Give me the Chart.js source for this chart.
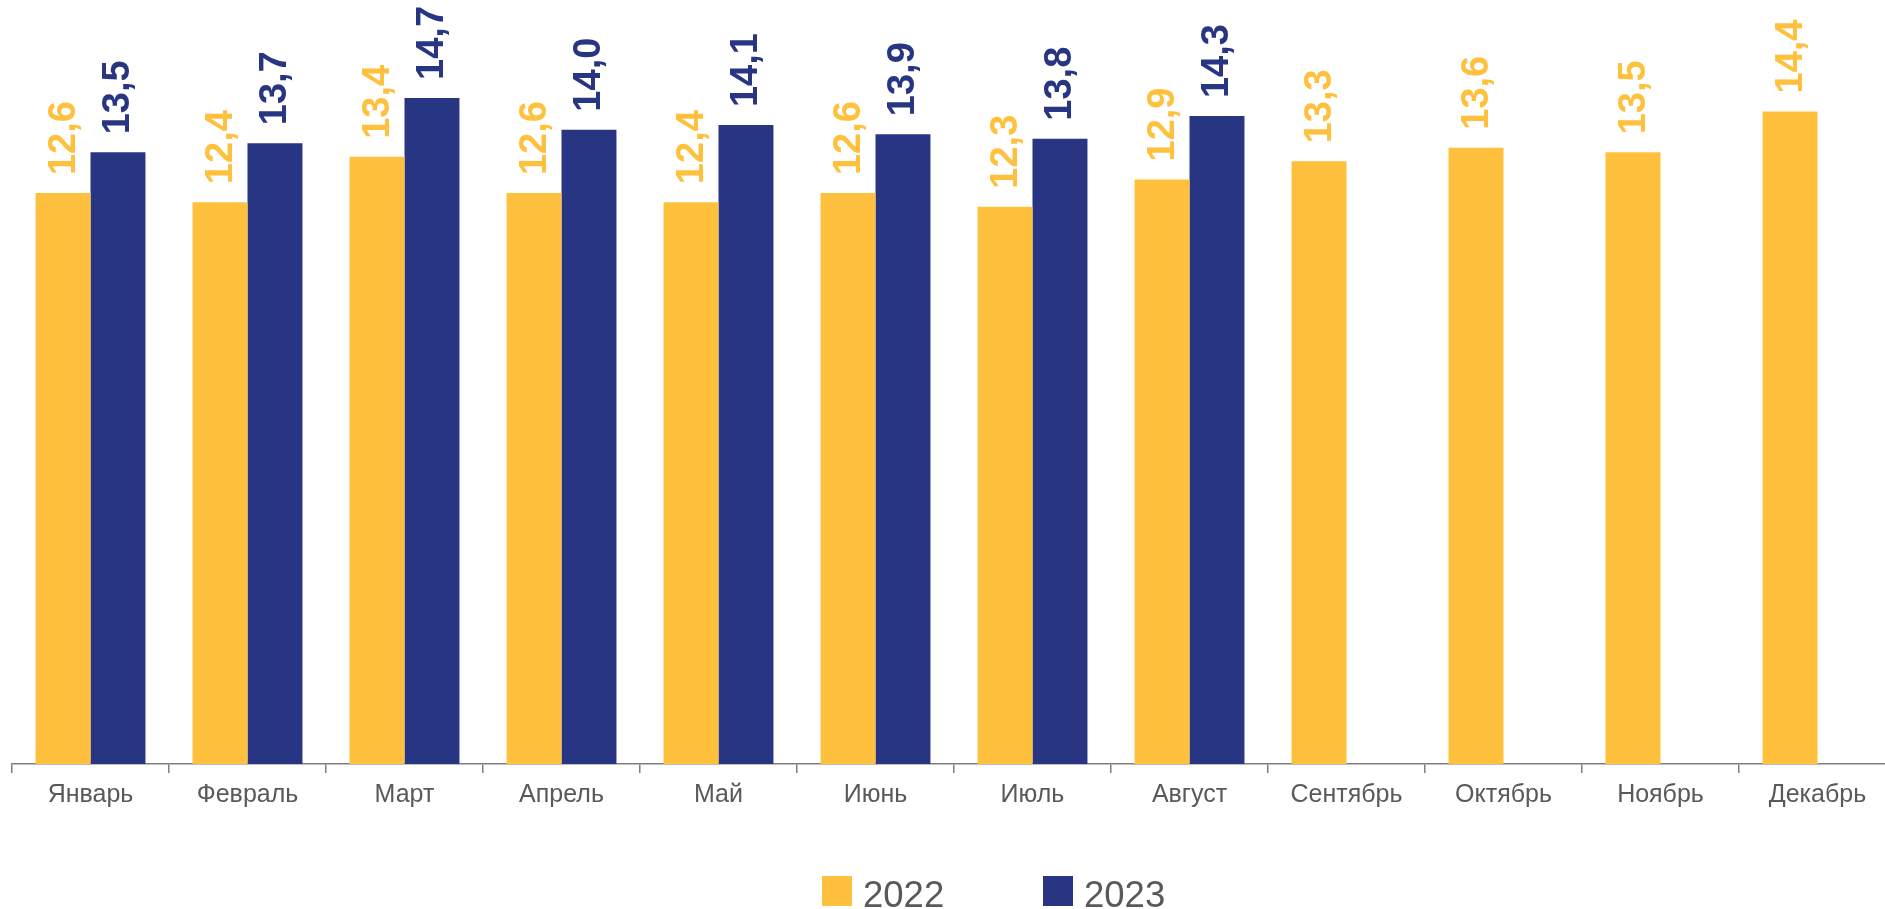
<!DOCTYPE html>
<html>
<head>
<meta charset="utf-8">
<script src="https://cdn.jsdelivr.net/npm/chart.js@4.4.1/dist/chart.umd.min.js"></script>
<style>
  html, body { margin: 0; padding: 0; background: #ffffff; overflow: hidden; }
  #wrap { width: 1885px; height: 909px; position: relative; overflow: hidden; }
  #c { display: block; }
</style>
</head>
<body>
<div id="wrap"><canvas id="c" width="1896" height="909"></canvas></div>
<script>
const categories = ['Январь', 'Февраль', 'Март', 'Апрель', 'Май', 'Июнь', 'Июль', 'Август', 'Сентябрь', 'Октябрь', 'Ноябрь', 'Декабрь'];
const seriesNames = ['2022', '2023'];
const values2022 = [12.6, 12.4, 13.4, 12.6, 12.4, 12.6, 12.3, 12.9, 13.3, 13.6, 13.5, 14.4];
const values2023 = [13.5, 13.7, 14.7, 14.0, 14.1, 13.9, 13.8, 14.3, null, null, null, null];

const YELLOW = '#FFC13D';
const BLUE = '#283583';
const FONT = "'Liberation Sans', Arial, sans-serif";

const valueLabels = {
  id: 'valueLabels',
  afterDatasetsDraw(chart) {
    const ctx = chart.ctx;
    ctx.save();
    chart.data.datasets.forEach((ds, di) => {
      const meta = chart.getDatasetMeta(di);
      meta.data.forEach((bar, i) => {
        const v = ds.data[i];
        if (v === null || v === undefined) return;
        const txt = v.toFixed(1).replace('.', ',');
        ctx.save();
        ctx.translate(bar.x, bar.y - 18);
        ctx.rotate(-Math.PI / 2);
        ctx.font = "bold 38px " + FONT;
        ctx.fillStyle = ds.backgroundColor;
        ctx.textAlign = 'left';
        ctx.textBaseline = 'middle';
        ctx.fillText(txt, 0, 1);
        ctx.restore();
      });
    });
    ctx.restore();
  }
};

const customLegend = {
  id: 'customLegend',
  afterDraw(chart) {
    const ctx = chart.ctx;
    ctx.save();
    const starts = [822, 1043];
    chart.data.datasets.forEach((ds, di) => {
      const x = starts[di];
      ctx.fillStyle = ds.backgroundColor;
      ctx.fillRect(x, 876, 30, 30);
      ctx.font = "36.5px " + FONT;
      ctx.fillStyle = '#595959';
      ctx.textAlign = 'left';
      ctx.textBaseline = 'alphabetic';
      ctx.fillText(ds.label, x + 41, 907);
    });
    ctx.restore();
  }
};

new Chart(document.getElementById('c'), {
  type: 'bar',
  data: {
    labels: categories,
    datasets: [
      { label: seriesNames[0], data: values2022, backgroundColor: YELLOW, categoryPercentage: 0.7, barPercentage: 1.0 },
      { label: seriesNames[1], data: values2023, backgroundColor: BLUE, categoryPercentage: 0.7, barPercentage: 1.0 }
    ]
  },
  options: {
    responsive: false,
    animation: false,
    devicePixelRatio: 1,
    layout: { padding: { left: 12, right: 0, top: 39, bottom: 0 } },
    plugins: {
      legend: { display: false },
      tooltip: { enabled: false },
      title: { display: false }
    },
    scales: {
      x: {
        offset: true,
        grid: { display: true, drawOnChartArea: false, drawTicks: true, tickLength: 9, color: '#7f7f7f', lineWidth: 1.5, offset: true },
        border: { display: true, color: '#7f7f7f', width: 1.5 },
        ticks: { color: '#595959', font: { family: FONT, size: 25 }, padding: 7, autoSkip: false, maxRotation: 0, minRotation: 0 },
        afterFit(scale) { scale.height = 145; }
      },
      y: {
        display: false,
        min: 0,
        max: 16,
        grid: { display: false }
      }
    }
  },
  plugins: [valueLabels, customLegend]
});
</script>
</body>
</html>
